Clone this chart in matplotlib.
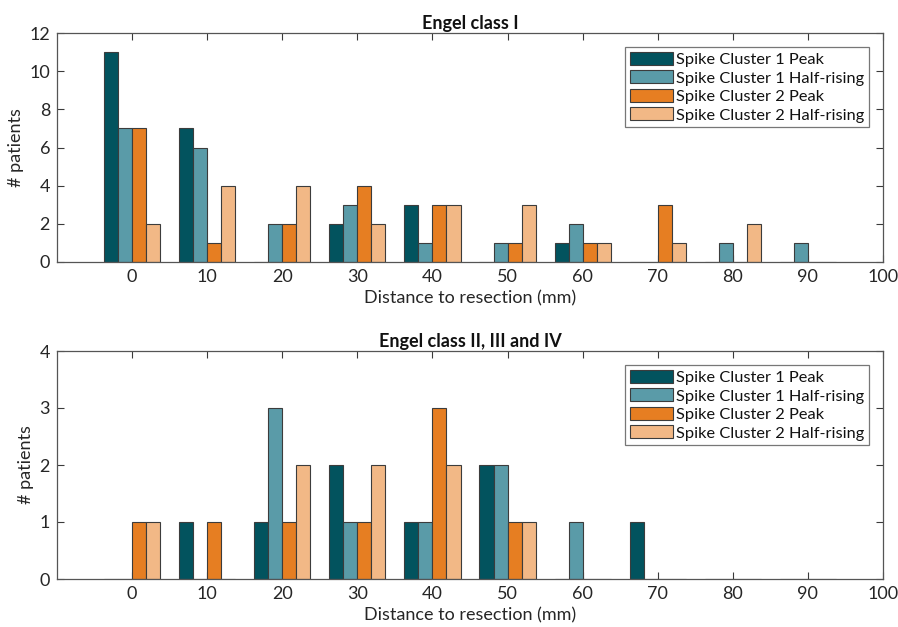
import matplotlib
matplotlib.use("Agg")
import matplotlib.pyplot as plt
import numpy as np

plt.rcParams['font.family'] = ['Lato', 'DejaVu Sans']

distances = [0, 10, 20, 30, 40, 50, 60, 70, 80, 90]
series_names = ["Spike Cluster 1 Peak", "Spike Cluster 1 Half-rising",
                "Spike Cluster 2 Peak", "Spike Cluster 2 Half-rising"]
colors = ["#02535e", "#5a9ba8", "#e67e22", "#f2b886"]

# Engel class I
c1_peak_I = [11, 7, 0, 2, 3, 0, 1, 0, 0, 0]
c1_half_I = [7, 6, 2, 3, 1, 1, 2, 0, 1, 1]
c2_peak_I = [7, 1, 2, 4, 3, 1, 1, 3, 0, 0]
c2_half_I = [2, 4, 4, 2, 3, 3, 1, 1, 2, 0]

# Engel class II, III and IV
c1_peak_II = [0, 1, 1, 2, 1, 2, 0, 1, 0, 0]
c1_half_II = [0, 0, 3, 1, 1, 2, 1, 0, 0, 0]
c2_peak_II = [1, 1, 1, 1, 3, 1, 0, 0, 0, 0]
c2_half_II = [1, 0, 2, 2, 2, 1, 0, 0, 0, 0]

titles = ["Engel class I", "Engel class II, III and IV"]
ylims = [12, 4]
ysteps = [2, 1]
xticks = list(range(0, 101, 10))

fig = plt.figure(figsize=(8.98, 6.27), dpi=100)
ax1 = fig.add_axes([57/898, 365/627, 826/898, 229/627])
ax2 = fig.add_axes([57/898, 48/627, 826/898, 228/627])

datasets = [[c1_peak_I, c1_half_I, c2_peak_I, c2_half_I],
            [c1_peak_II, c1_half_II, c2_peak_II, c2_half_II]]

w = 1.87
offsets = [-1.5*w, -0.5*w, 0.5*w, 1.5*w]
x = np.array(distances, dtype=float)
axcol = "#3a3a3a"

for ax, data, title, ymax, ystep in zip([ax1, ax2], datasets, titles, ylims, ysteps):
    for vals, off, col, name in zip(data, offsets, colors, series_names):
        ax.bar(x + off, vals, width=w, color=col, edgecolor="#3c3c3c",
               linewidth=0.8, label=name, zorder=2)
    ax.set_xlim(-10, 100)
    ax.set_ylim(0, ymax)
    ax.set_xticks(xticks)
    ax.set_yticks(np.arange(0, ymax + 0.1, ystep))
    ax.tick_params(direction="in", top=True, right=True, length=5,
                   width=0.8, colors=axcol, labelsize=13, labelcolor="#262626", pad=5)
    for sp in ax.spines.values():
        sp.set_color("#555555")
        sp.set_linewidth(0.9)
    ax.set_title(title, fontsize=13, fontweight="bold", color="#111111", pad=3)
    ax.set_xlabel("Distance to resection (mm)", fontsize=13, color="#262626", labelpad=4)
    ax.set_ylabel("# patients", fontsize=13, color="#262626", labelpad=4)
    leg = ax.legend(loc="upper right", fontsize=11.8, frameon=True, fancybox=False,
                    edgecolor="#555555", handlelength=2.6, handleheight=0.85,
                    labelspacing=0.2, borderaxespad=0.85, borderpad=0.3,
                    handletextpad=0.2)
    leg.get_frame().set_linewidth(0.9)
    for t in leg.get_texts():
        t.set_color("#111111")

fig.savefig("out.png", dpi=100)
